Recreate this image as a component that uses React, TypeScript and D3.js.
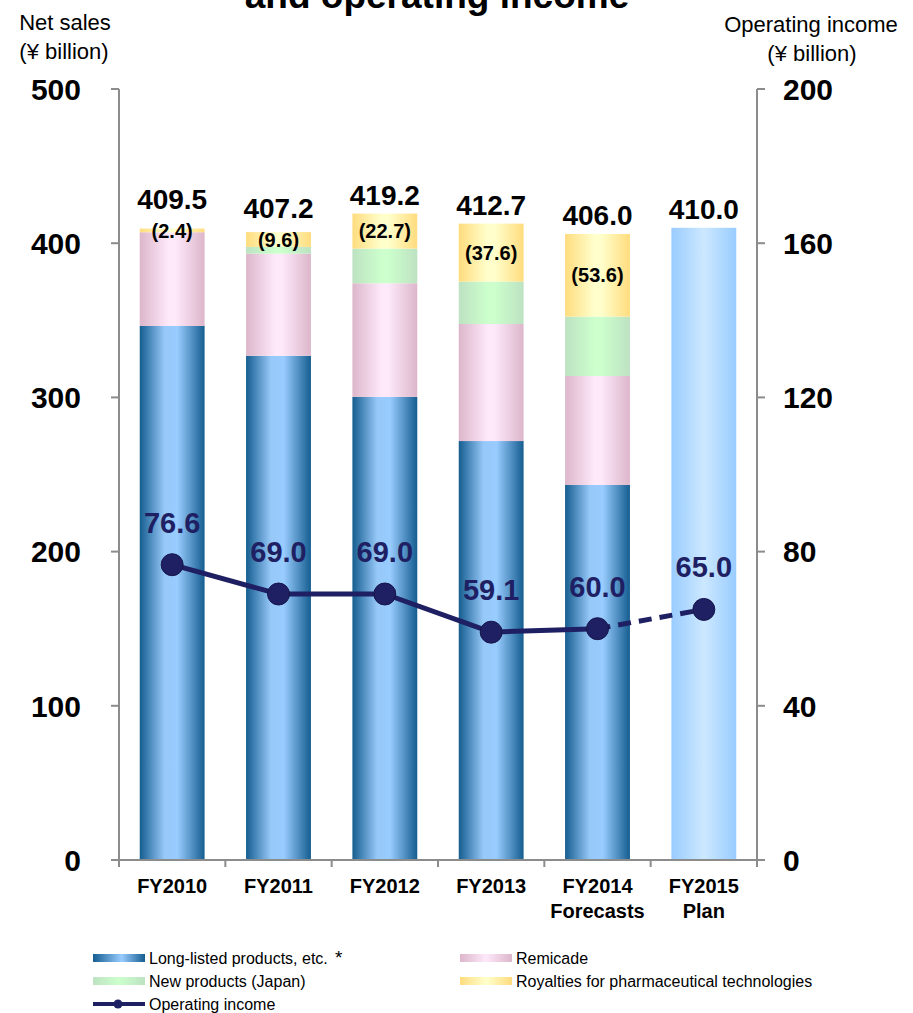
import React from "react";
import * as d3 from "d3";

// Fiscal years and sales breakdown (¥ billion)
const categories = ["FY2010", "FY2011", "FY2012", "FY2013", "FY2014", "FY2015"];
const categorySubLabels = ["", "", "", "", "Forecasts", "Plan"];
const longListed = [346.3, 327.0, 300.3, 271.7, 243.2];
const remicade = [60.8, 66.2, 73.7, 75.9, 70.7];
const newProducts = [0, 4.4, 22.5, 27.5, 38.5];
const royalties = [2.4, 9.6, 22.7, 37.6, 53.6];
const planSales = [410.0]; // FY2015 plan (not broken down)
const netSalesTotals = [409.5, 407.2, 419.2, 412.7, 406.0, 410.0];
const operatingIncome = [76.6, 69.0, 69.0, 59.1, 60.0, 65.0];

const leftTicks = [0, 100, 200, 300, 400, 500];
const rightTicks = [0, 40, 80, 120, 160, 200];

const seriesNames = [
  "Long-listed products, etc.",
  "Remicade",
  "New products (Japan)",
  "Royalties for pharmaceutical technologies",
  "Operating income",
];

const W = 913;
const H = 1013;
const FONT = "'Liberation Sans', Arial, Helvetica, sans-serif";
const NAVY = "#1f1f63";
const AXIS = "#8c8c8c";

export default function App() {
  const plot = { left: 119, right: 757, top: 89, bottom: 860 };

  const x = d3
    .scaleBand<string>()
    .domain(categories)
    .range([plot.left, plot.right])
    .paddingInner(0.39)
    .paddingOuter(0.195);
  const yL = d3.scaleLinear().domain([0, 500]).range([plot.bottom, plot.top]);
  const yR = d3.scaleLinear().domain([0, 200]).range([plot.bottom, plot.top]);
  const bw = x.bandwidth();
  const cx = (c: string) => (x(c) as number) + bw / 2;

  // stacked segments for the broken-down years
  const stackRows = longListed.map((_, i) => ({
    cat: categories[i],
    long: longListed[i],
    remi: remicade[i],
    newp: newProducts[i],
    roy: royalties[i],
  }));
  const keys = ["long", "remi", "newp", "roy"];
  const fills = ["url(#gBlue)", "url(#gPink)", "url(#gGreen)", "url(#gYellow)"];
  const stacked = d3.stack<any>().keys(keys)(stackRows);

  const oiPoints = operatingIncome.map((v, i) => [cx(categories[i]), yR(v)] as [number, number]);
  const line = d3.line();
  const solidPts = oiPoints.slice(0, 5);
  const dashedPts = oiPoints.slice(4, 6);

  // x-axis tick positions at band boundaries
  const step = x.step();
  const xTicks = d3.range(categories.length + 1).map((i) => plot.left + i * step);

  // total label position: above bar, lifted above the royalty label when the royalty slice is thin
  const totalLabelY = (i: number) => {
    const top = yL(netSalesTotals[i]);
    if (i >= royalties.length) return top - 9;
    const royTop = yL(stacked[3][i][1]);
    const royBot = yL(stacked[3][i][0]);
    const royCenter = (royTop + royBot) / 2;
    return Math.min(top - 9, royCenter - 10 - 11);
  };

  const legendItems = [
    { name: seriesNames[0], fill: "url(#lgBlue)", x: 93, y: 958 },
    { name: seriesNames[1], fill: "url(#lgPink)", x: 460, y: 958 },
    { name: seriesNames[2], fill: "url(#lgGreen)", x: 93, y: 981 },
    { name: seriesNames[3], fill: "url(#lgYellow)", x: 460, y: 981 },
  ];

  const grad = (id: string, stops: [number, string][]) => (
    <linearGradient id={id} x1="0" x2="1" y1="0" y2="0">
      {stops.map(([o, c], k) => (
        <stop key={k} offset={o} stopColor={c} />
      ))}
    </linearGradient>
  );

  return (
    <svg
      width={W}
      height={H}
      viewBox={`0 0 ${W} ${H}`}
      style={{ position: "absolute", left: 0, top: 0, display: "block", background: "#fff" }}
      fontFamily={FONT}
    >
      <defs>
        {grad("gBlue", [[0, "#155d90"], [0.38, "#96c8f8"], [0.58, "#99ccff"], [1, "#155d90"]])}
        {grad("gPink", [[0, "#ddb6ca"], [0.45, "#fde9fa"], [0.55, "#fde9fa"], [1, "#ddb6ca"]])}
        {grad("gGreen", [[0, "#bde2c2"], [0.45, "#ccffcc"], [0.55, "#ccffcc"], [1, "#bde2c2"]])}
        {grad("gYellow", [[0, "#ffdc7e"], [0.45, "#ffffcc"], [0.55, "#ffffcc"], [1, "#ffdc7e"]])}
        {grad("gPlan", [[0, "#99ccff"], [0.5, "#cce8ff"], [1, "#99ccff"]])}
        {grad("lgBlue", [[0, "#155d90"], [0.55, "#99ccff"], [1, "#155d90"]])}
        {grad("lgPink", [[0, "#ddb6ca"], [0.5, "#fde9fa"], [1, "#ddb6ca"]])}
        {grad("lgGreen", [[0, "#bde2c2"], [0.5, "#ccffcc"], [1, "#bde2c2"]])}
        {grad("lgYellow", [[0, "#ffdc7e"], [0.5, "#ffffcc"], [1, "#ffdc7e"]])}
      </defs>

      {/* title (second line) */}
      <text x={437} y={8} textAnchor="middle" fontSize={37} fontWeight="bold" fill="#000">
        and operating income
      </text>

      {/* axis titles */}
      <text x={65} y={30} textAnchor="middle" fontSize={22} fill="#000">Net sales</text>
      <text x={64} y={59} textAnchor="middle" fontSize={22} fill="#000">(¥ billion)</text>
      <text x={811} y={32} textAnchor="middle" fontSize={22} fill="#000">Operating income</text>
      <text x={812} y={61} textAnchor="middle" fontSize={22} fill="#000">(¥ billion)</text>

      {/* stacked bars */}
      {stacked.map((layer, li) =>
        layer.map((d, i) => {
          const h = yL(d[0]) - yL(d[1]);
          if (h <= 0) return null;
          return (
            <rect
              key={`${li}-${i}`}
              x={x(categories[i])}
              y={yL(d[1])}
              width={bw}
              height={h}
              fill={fills[li]}
            />
          );
        })
      )}
      {/* plan bar */}
      {planSales.map((v, k) => (
        <rect
          key={`plan-${k}`}
          x={x(categories[5])}
          y={yL(v)}
          width={bw}
          height={yL(0) - yL(v)}
          fill="url(#gPlan)"
        />
      ))}

      {/* royalty labels */}
      {royalties.map((v, i) => {
        const mid = (yL(stacked[3][i][0]) + yL(stacked[3][i][1])) / 2;
        return (
          <text key={`roy-${i}`} x={cx(categories[i])} y={mid} dy="0.36em" textAnchor="middle" fontSize={20} fontWeight="bold" fill="#000">
            ({v.toFixed(1)})
          </text>
        );
      })}

      {/* net sales totals */}
      {netSalesTotals.map((v, i) => (
        <text key={`tot-${i}`} x={cx(categories[i])} y={totalLabelY(i)} textAnchor="middle" fontSize={28} fontWeight="bold" fill="#000">
          {v.toFixed(1)}
        </text>
      ))}

      {/* axes */}
      <g stroke={AXIS} strokeWidth={2} fill="none">
        <line x1={plot.left} x2={plot.left} y1={plot.top} y2={plot.bottom} />
        <line x1={plot.right} x2={plot.right} y1={plot.top} y2={plot.bottom} />
        <line x1={plot.left - 7} x2={plot.right + 7} y1={plot.bottom} y2={plot.bottom} />
        {leftTicks.map((t) => (
          <line key={`lt-${t}`} x1={plot.left - 8} x2={plot.left} y1={yL(t)} y2={yL(t)} />
        ))}
        {rightTicks.map((t) => (
          <line key={`rt-${t}`} x1={plot.right} x2={plot.right + 8} y1={yR(t)} y2={yR(t)} />
        ))}
        {xTicks.map((t, k) => (
          <line key={`xt-${k}`} x1={t} x2={t} y1={plot.bottom} y2={plot.bottom + 7} />
        ))}
      </g>

      {leftTicks.map((t) => (
        <text key={`ll-${t}`} x={81} y={yL(t)} dy="0.36em" textAnchor="end" fontSize={30} fontWeight="bold" fill="#000">
          {t}
        </text>
      ))}
      {rightTicks.map((t) => (
        <text key={`rl-${t}`} x={783} y={yR(t)} dy="0.36em" textAnchor="start" fontSize={30} fontWeight="bold" fill="#000">
          {t}
        </text>
      ))}

      {categories.map((c, i) => (
        <g key={`xl-${c}`}>
          <text x={cx(c)} y={893} textAnchor="middle" fontSize={20} fontWeight="bold" fill="#000">{c}</text>
          {categorySubLabels[i] && (
            <text x={cx(c)} y={918} textAnchor="middle" fontSize={20} fontWeight="bold" fill="#000">
              {categorySubLabels[i]}
            </text>
          )}
        </g>
      ))}

      {/* operating income line */}
      <path d={line(solidPts) as string} fill="none" stroke={NAVY} strokeWidth={5} strokeLinejoin="round" />
      <path d={line(dashedPts) as string} fill="none" stroke={NAVY} strokeWidth={5} strokeDasharray="13 8" />
      {oiPoints.map(([px, py], i) => (
        <circle key={`oi-${i}`} cx={px} cy={py} r={11} fill={NAVY} stroke="#15154a" strokeWidth={1} />
      ))}
      {operatingIncome.map((v, i) => (
        <text key={`oil-${i}`} x={oiPoints[i][0]} y={oiPoints[i][1] - 32} textAnchor="middle" fontSize={29} fontWeight="bold" fill={NAVY}>
          {v.toFixed(1)}
        </text>
      ))}

      {/* legend */}
      {legendItems.map((it) => (
        <g key={it.name}>
          <rect x={it.x} y={it.y - 4} width={52} height={8} fill={it.fill} />
          <text x={it.x + 56} y={it.y} dy="0.36em" fontSize={16} fill="#000">{it.name}</text>
        </g>
      ))}
      <text x={335} y={964} fontSize={19} fill="#000">*</text>
      <g>
        <line x1={93} x2={145} y1={1004} y2={1004} stroke={NAVY} strokeWidth={4} />
        <circle cx={118} cy={1004} r={4.5} fill={NAVY} />
        <text x={149} y={1004} dy="0.36em" fontSize={16} fill="#000">{seriesNames[4]}</text>
      </g>
    </svg>
  );
}
